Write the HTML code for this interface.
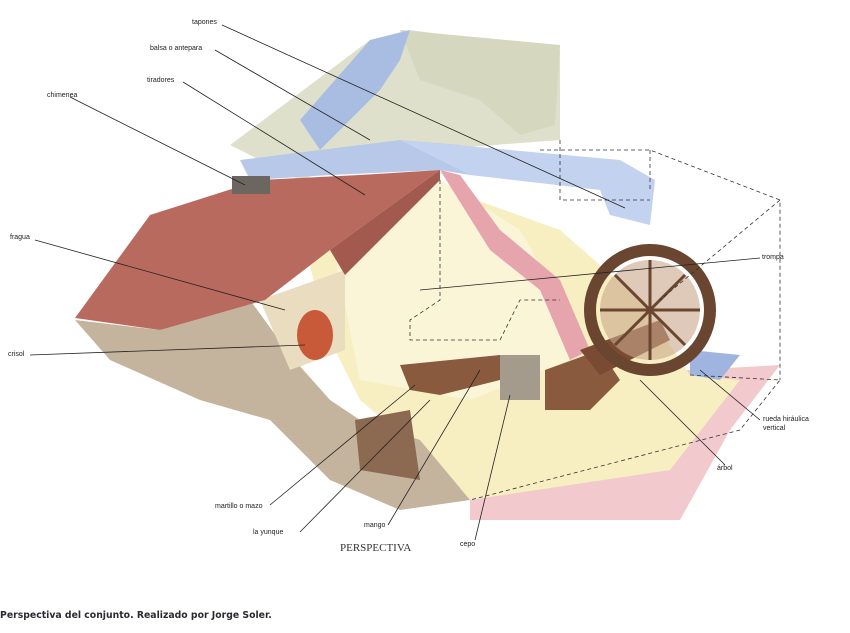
<!DOCTYPE html>
<html><head><meta charset="utf-8"><style>
html,body{margin:0;padding:0;background:#fff;width:850px;height:633px;overflow:hidden}
svg{position:absolute;left:0;top:0}
.l{font-family:"Liberation Sans",sans-serif;font-size:7px;fill:#222}
.cap{position:absolute;left:0;top:610px;font:bold 9.3px "DejaVu Sans",sans-serif;color:#2a2a33;white-space:nowrap}
</style></head><body>
<svg width="850" height="633" viewBox="0 0 850 633">
<polygon points="600,375 780,365 730,430 680,520 470,520 470,470" fill="#f2c9cc"/>
<polygon points="300,230 420,180 560,230 640,300 690,375 740,380 670,470 470,500 430,460 360,400 330,340" fill="#f7efc2"/>
<polygon points="330,230 440,180 520,230 560,300 570,360 470,400 360,380" fill="#fbf5d8"/>
<polygon points="230,145 370,40 410,30 560,50 560,140 430,150 360,160 300,180" fill="#dfe0cc"/>
<polygon points="400,30 560,45 555,125 520,135 480,100 420,80" fill="#d6d7bf"/>
<polygon points="240,160 320,150 400,140 460,145 470,175 440,170 330,175 250,180" fill="#b8c8e8"/>
<polygon points="400,140 620,160 655,180 650,225 610,215 600,190 470,175" fill="#c3d2ef"/>
<polygon points="370,40 410,30 400,60 380,90 340,130 320,150 300,120" fill="#a9bde3"/>
<polygon points="690,350 740,355 720,380 690,375" fill="#9fb5e0"/>
<polygon points="440,170 460,175 500,230 560,280 590,350 570,360 540,290 490,250" fill="#e6a5ad"/>
<polygon points="75,320 160,330 250,300 290,355 330,400 360,420 420,440 470,500 400,510 330,480 270,420 200,400 110,360" fill="#c4b49e"/>
<polygon points="260,300 345,270 345,350 290,370" fill="#e9dcbf"/>
<polygon points="355,420 410,410 420,480 360,470" fill="#8c6a52"/>
<polygon points="75,318 150,215 260,180 360,175 440,170 330,250 265,300 160,330" fill="#b86a5e"/>
<polygon points="440,170 330,250 345,275 440,180" fill="#a35a4e"/>
<rect x="232" y="176" width="38" height="18" fill="#6b6660"/>
<ellipse cx="315" cy="335" rx="18" ry="25" fill="#c85a3a"/>
<polygon points="400,365 500,355 500,380 440,395 410,390" fill="#8a5a3e"/>
<rect x="500" y="355" width="40" height="45" fill="#a59b8d"/>
<polygon points="545,370 600,350 620,380 590,410 545,410" fill="#8a5a3e"/>
<polygon points="580,350 660,320 670,340 600,375" fill="#7a4b32"/>
<circle cx="650" cy="310" r="60" fill="none" stroke="#6a4530" stroke-width="12"/>
<circle cx="650" cy="310" r="50" fill="#c9a78a" opacity=".6"/>
<g stroke="#6a4530" stroke-width="3"><line x1="600" y1="310" x2="700" y2="310"/><line x1="650" y1="260" x2="650" y2="360"/><line x1="615" y1="275" x2="685" y2="345"/><line x1="685" y1="275" x2="615" y2="345"/></g>
<g fill="none" stroke="#333" stroke-width="0.8" stroke-dasharray="4,3">
<polyline points="540,150 650,150 780,200 780,380"/><polyline points="650,150 650,190"/>
<polyline points="440,180 440,300 410,320 410,340 500,340 520,300 560,300"/>
<polyline points="780,200 660,300"/><polyline points="560,140 560,200 650,200"/>
<polyline points="690,375 780,380 740,430 470,500"/>
</g>
<g stroke="#222" stroke-width="0.8">
<line x1="222" y1="25" x2="625" y2="208"/><line x1="215" y1="50" x2="370" y2="140"/>
<line x1="183" y1="82" x2="365" y2="195"/><line x1="70" y1="97" x2="245" y2="185"/>
<line x1="35" y1="240" x2="285" y2="310"/><line x1="30" y1="355" x2="305" y2="345"/>
<line x1="760" y1="258" x2="420" y2="290"/><line x1="760" y1="420" x2="700" y2="370"/>
<line x1="725" y1="465" x2="640" y2="380"/><line x1="270" y1="505" x2="415" y2="385"/>
<line x1="300" y1="532" x2="430" y2="400"/><line x1="388" y1="525" x2="480" y2="370"/>
<line x1="475" y1="540" x2="510" y2="395"/>
</g>
<text class="l" x="192" y="24">tapones</text>
<text class="l" x="150" y="50">balsa o antepara</text>
<text class="l" x="147" y="82">tiradores</text>
<text class="l" x="47" y="97">chimenea</text>
<text class="l" x="10" y="239">fragua</text>
<text class="l" x="8" y="356">crisol</text>
<text class="l" x="762" y="259">trompa</text>
<text class="l" x="763" y="421">rueda hiráulica</text>
<text class="l" x="763" y="430">vertical</text>
<text class="l" x="717" y="470">árbol</text>
<text class="l" x="215" y="508">martillo o mazo</text>
<text class="l" x="253" y="534">la yunque</text>
<text class="l" x="364" y="527">mango</text>
<text class="l" x="460" y="546">cepo</text>
<text x="340" y="551" style="font-family:'Liberation Serif',serif;font-size:11px;fill:#333">PERSPECTIVA</text>
</svg>
<div class="cap">Perspectiva del conjunto. Realizado por Jorge Soler.</div>
</body></html>
